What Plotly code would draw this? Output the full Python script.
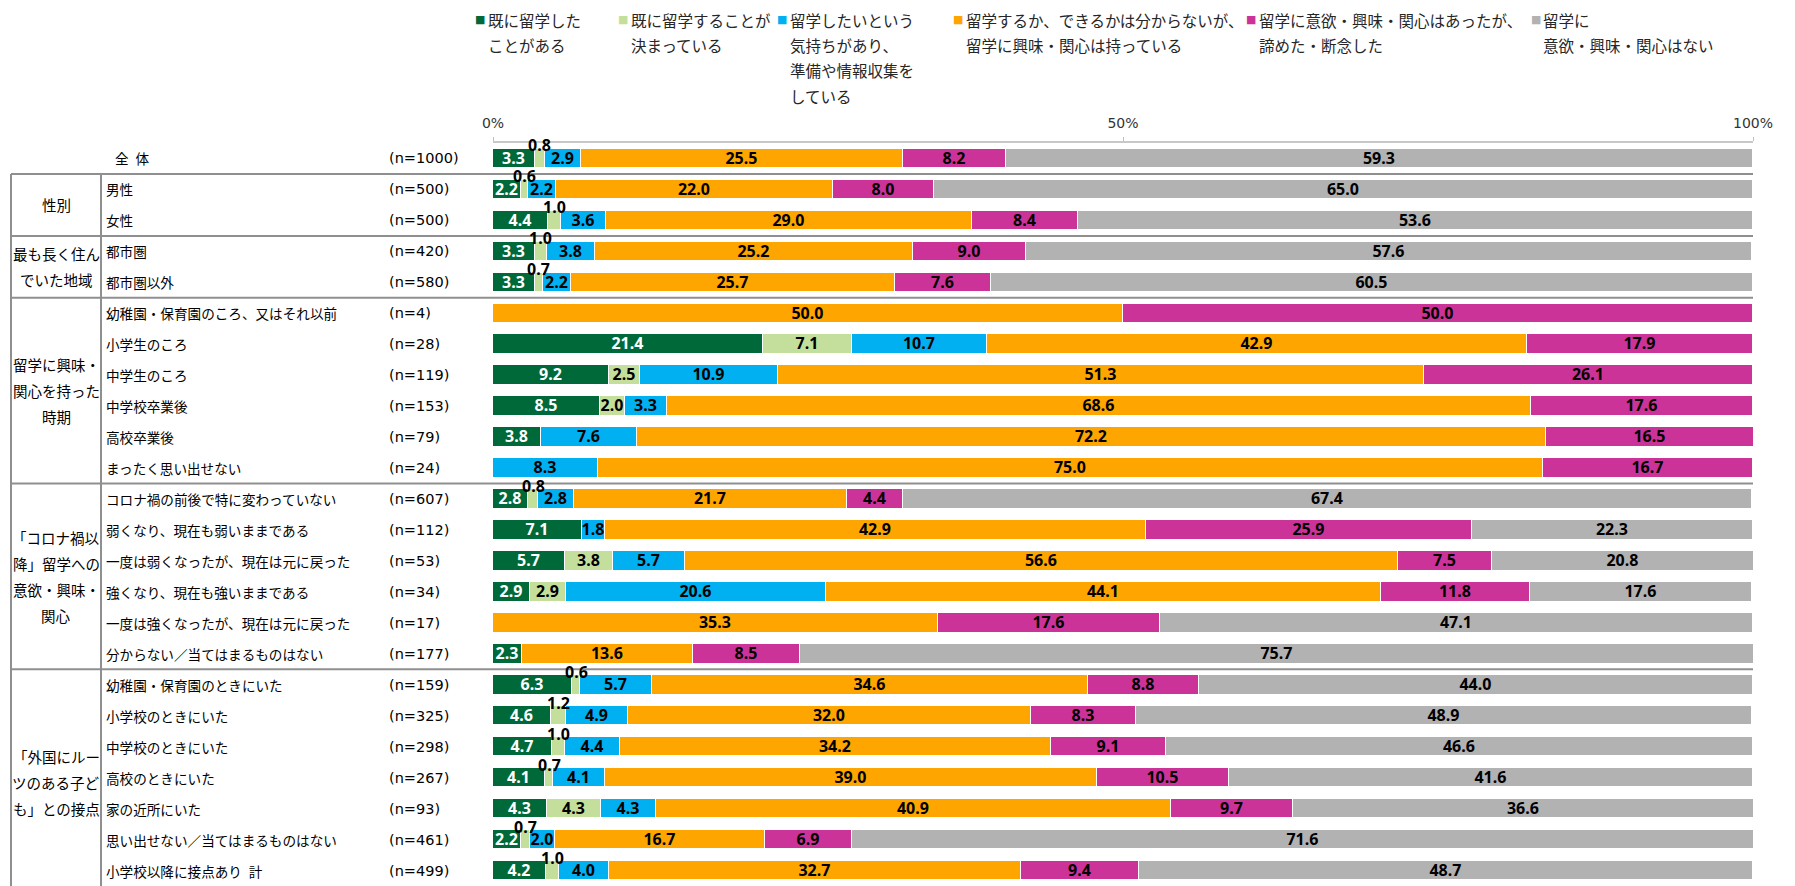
import plotly.graph_objects as go

# ---------------- data ----------------
categories = [
    "全\u2002体", "男性", "女性", "都市圏", "都市圏以外",
    "幼稚園・保育園のころ、又はそれ以前", "小学生のころ", "中学生のころ", "中学校卒業後", "高校卒業後", "まったく思い出せない",
    "コロナ禍の前後で特に変わっていない", "弱くなり、現在も弱いままである", "一度は弱くなったが、現在は元に戻った",
    "強くなり、現在も強いままである", "一度は強くなったが、現在は元に戻った", "分からない／当てはまるものはない",
    "幼稚園・保育園のときにいた", "小学校のときにいた", "中学校のときにいた", "高校のときにいた", "家の近所にいた",
    "思い出せない／当てはまるものはない", "小学校以降に接点あり\u2002計",
]
n_labels = [
    "(n=1000)", "(n=500)", "(n=500)", "(n=420)", "(n=580)",
    "(n=4)", "(n=28)", "(n=119)", "(n=153)", "(n=79)", "(n=24)",
    "(n=607)", "(n=112)", "(n=53)", "(n=34)", "(n=17)", "(n=177)",
    "(n=159)", "(n=325)", "(n=298)", "(n=267)", "(n=93)", "(n=461)", "(n=499)",
]
# group label lines, first row, last row
groups = [
    (["性別"], 1, 2),
    (["最も長く住ん", "でいた地域"], 3, 4),
    (["留学に興味・", "関心を持った", "時期"], 5, 10),
    (["「コロナ禍以", "降」留学への", "意欲・興味・", "関心"], 11, 16),
    (["「外国にルー", "ツのある子ど", "も」との接点"], 17, 23.3),
]
series_names = [
    ["既に留学した", "ことがある"],
    ["既に留学することが", "決まっている"],
    ["留学したいという", "気持ちがあり、", "準備や情報収集を", "している"],
    ["留学するか、できるかは分からないが、", "留学に興味・関心は持っている"],
    ["留学に意欲・興味・関心はあったが、", "諦めた・断念した"],
    ["留学に", "意欲・興味・関心はない"],
]
s1 = [3.3, 2.2, 4.4, 3.3, 3.3, 0, 21.4, 9.2, 8.5, 3.8, 0, 2.8, 7.1, 5.7, 2.9, 0, 2.3, 6.3, 4.6, 4.7, 4.1, 4.3, 2.2, 4.2]
s2 = [0.8, 0.6, 1.0, 1.0, 0.7, 0, 7.1, 2.5, 2.0, 0, 0, 0.8, 0, 3.8, 2.9, 0, 0, 0.6, 1.2, 1.0, 0.7, 4.3, 0.7, 1.0]
s3 = [2.9, 2.2, 3.6, 3.8, 2.2, 0, 10.7, 10.9, 3.3, 7.6, 8.3, 2.8, 1.8, 5.7, 20.6, 0, 0, 5.7, 4.9, 4.4, 4.1, 4.3, 2.0, 4.0]
s4 = [25.5, 22.0, 29.0, 25.2, 25.7, 50.0, 42.9, 51.3, 68.6, 72.2, 75.0, 21.7, 42.9, 56.6, 44.1, 35.3, 13.6, 34.6, 32.0, 34.2, 39.0, 40.9, 16.7, 32.7]
s5 = [8.2, 8.0, 8.4, 9.0, 7.6, 50.0, 17.9, 26.1, 17.6, 16.5, 16.7, 4.4, 25.9, 7.5, 11.8, 17.6, 8.5, 8.8, 8.3, 9.1, 10.5, 9.7, 6.9, 9.4]
s6 = [59.3, 65.0, 53.6, 57.6, 60.5, 0, 0, 0, 0, 0, 0, 67.4, 22.3, 20.8, 17.6, 47.1, 75.7, 44.0, 48.9, 46.6, 41.6, 36.6, 71.6, 48.7]
series = [s1, s2, s3, s4, s5, s6]
tick_vals = [0, 50, 100]
tick_text = ["0%", "50%", "100%"]

# ---------------- style ----------------
colors = ["#00693A", "#C4DF9B", "#00B0F0", "#FFA500", "#CC3399", "#B2B2B2"]
text_colors = ["#FFFFFF", "#000000", "#000000", "#000000", "#000000", "#000000"]
PAGE_W, PAGE_H = 1795, 886
OFF = 8                       # default body margin of the html page
W, H = PAGE_W - OFF, PAGE_H - OFF


def px(x):
    """page pixel x -> paper x"""
    return (x - OFF) / W


def py(y):
    """page pixel y -> paper y"""
    return 1 - (y - OFF) / H


JP = "Noto Sans CJK JP"
NUM = "Noto Sans"
SMALL = 1.5
x_dom = [px(493), px(1753)]
y_dom = [0, py(143)]
line_col = "#8F8F8F"
rows = list(range(len(categories)))

fig = go.Figure()
for i, (vals, names) in enumerate(zip(series, series_names)):
    labels = [f"{v:.1f}" if v >= SMALL else "" for v in vals]
    fig.add_trace(go.Bar(
        y=rows, x=vals, orientation="h", name="".join(names),
        marker=dict(color=colors[i], line=dict(color="#FFFFFF", width=1.2)),
        width=0.63, text=labels, textposition="inside", insidetextanchor="middle",
        constraintext="none", textangle=0,
        textfont=dict(family=NUM, size=16, color=text_colors[i], weight="bold"),
        showlegend=False, hoverinfo="skip",
    ))

annotations = []
# small values shown above bars
for r in rows:
    cum = 0.0
    for vals in series:
        v = vals[r]
        if 0 < v < SMALL:
            annotations.append(dict(
                x=cum + v / 2, y=r, xref="x", yref="y", text=f"{v:.1f}", showarrow=False,
                yshift=13, font=dict(family=NUM, size=16, color="#000000", weight="bold"),
            ))
        cum += v

# row labels and n labels
for r, (cat, nl) in enumerate(zip(categories, n_labels)):
    cx = 113 if r == 0 else 104
    annotations.append(dict(x=px(cx), y=r, xref="paper", yref="y", text=cat, showarrow=False,
                            xanchor="left", font=dict(family=JP, size=13.6, color="#000000")))
    annotations.append(dict(x=px(387), y=r, xref="paper", yref="y", text=nl, showarrow=False,
                            xanchor="left", font=dict(family="DejaVu Sans", size=14.5, color="#000000")))

# group labels
GL = 26
for lines, r0, r1 in groups:
    mid = (r0 + r1) / 2
    k = len(lines)
    for j, ln in enumerate(lines):
        annotations.append(dict(x=px(56), y=mid, xref="paper", yref="y", text=ln, showarrow=False,
                                xanchor="center", yshift=((k - 1) / 2 - j) * GL,
                                font=dict(family=JP, size=14.5, color="#000000")))

# legend (manual, multi-line)
leg_marker_x = [473, 616, 775, 951, 1244, 1529]
leg_text_x = [486, 629, 788, 964, 1257, 1541]
leg_line_y = [20, 45, 70, 95.5]
for i, names in enumerate(series_names):
    annotations.append(dict(x=px(leg_marker_x[i]), y=py(leg_line_y[0]), xref="paper", yref="paper",
                            text="■", showarrow=False, xanchor="left", yanchor="middle",
                            font=dict(family="DejaVu Sans", size=11, color=colors[i])))
    for j, ln in enumerate(names):
        annotations.append(dict(x=px(leg_text_x[i]), y=py(leg_line_y[j]), xref="paper", yref="paper",
                                text=ln, showarrow=False, xanchor="left", yanchor="middle",
                                font=dict(family=JP, size=15.5, color="#262626")))

# table lines
shapes = []
for b in [0.5, 2.5, 4.5, 10.5, 16.5]:
    shapes.append(dict(type="line", xref="paper", yref="y", x0=px(11), x1=x_dom[1], y0=b, y1=b,
                       line=dict(color=line_col, width=2)))
for vx in [11, 101]:
    shapes.append(dict(type="line", xref="paper", yref="y", x0=px(vx), x1=px(vx), y0=0.5, y1=23.5,
                       line=dict(color=line_col, width=2)))

fig.update_layout(
    barmode="stack", bargap=0,
    width=W, height=H, margin=dict(l=0, r=0, t=0, b=0),
    paper_bgcolor="#FFFFFF", plot_bgcolor="#FFFFFF",
    xaxis=dict(domain=x_dom, range=[0, 100], side="top", tickvals=tick_vals, ticktext=tick_text,
               ticks="outside", ticklen=4, tickcolor="#BFBFBF", showline=True, linecolor="#C8C8C8",
               linewidth=2, showgrid=False, zeroline=False, ticklabelstandoff=3, automargin=False,
               tickfont=dict(family="DejaVu Sans", size=14, color="#333333"), fixedrange=True),
    yaxis=dict(domain=y_dom, range=[23.5, -0.5], showticklabels=False, showgrid=False,
               zeroline=False, showline=False, ticks="", fixedrange=True, automargin=False),
    annotations=annotations, shapes=shapes, showlegend=False,
)

fig.write_html("out.html", config={"displayModeBar": False})
